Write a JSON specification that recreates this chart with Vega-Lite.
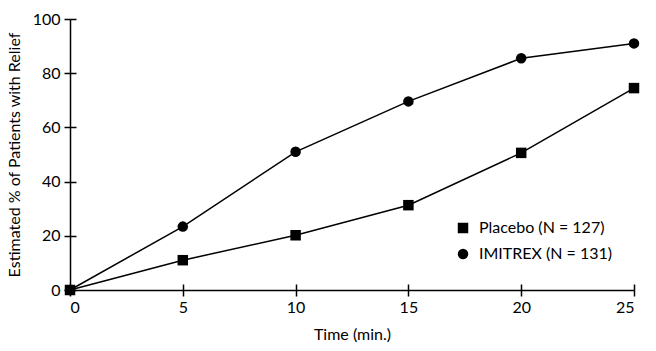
{
  "$schema": "https://vega.github.io/schema/vega-lite/v6.json",
  "width": 564,
  "height": 271,
  "autosize": "none",
  "padding": {"left": 70, "top": 19, "right": 22, "bottom": 61},
  "background": "white",
  "config": {
    "view": {"stroke": null},
    "font": "Lato"
  },
  "data": {"values": [
    {"t": 0, "pct": 0, "group": "Placebo (N = 127)"},
    {"t": 5, "pct": 11, "group": "Placebo (N = 127)"},
    {"t": 10, "pct": 20.2, "group": "Placebo (N = 127)"},
    {"t": 15, "pct": 31.3, "group": "Placebo (N = 127)"},
    {"t": 20, "pct": 50.6, "group": "Placebo (N = 127)"},
    {"t": 25, "pct": 74.5, "group": "Placebo (N = 127)"},
    {"t": 0, "pct": 0, "group": "IMITREX (N = 131)"},
    {"t": 5, "pct": 23.4, "group": "IMITREX (N = 131)"},
    {"t": 10, "pct": 51, "group": "IMITREX (N = 131)"},
    {"t": 15, "pct": 69.6, "group": "IMITREX (N = 131)"},
    {"t": 20, "pct": 85.5, "group": "IMITREX (N = 131)"},
    {"t": 25, "pct": 91, "group": "IMITREX (N = 131)"}
  ]},
  "layer": [
    {
      "mark": {"type": "line", "color": "black", "strokeWidth": 1.5},
      "encoding": {
        "x": {"field": "t", "type": "quantitative", "scale": {"domain": [0, 25], "nice": false}, "axis": {"orient": "bottom", "values": [0, 5, 10, 15, 20, 25], "title": "Time (min.)", "tickSize": 6, "labelPadding": 3, "titlePadding": 11, "grid": false, "domainColor": "black", "tickColor": "black", "labelColor": "black", "titleColor": "black", "labelFont": "Lato", "titleFont": "Lato", "labelFontSize": 16, "titleFontSize": 16, "titleFontWeight": "normal", "domainWidth": 1.5, "tickWidth": 1.5}},
        "y": {"field": "pct", "type": "quantitative", "scale": {"domain": [0, 100], "nice": false}, "axis": {"orient": "left", "values": [0, 20, 40, 60, 80, 100], "title": "Estimated % of Patients with Relief", "tickSize": 6, "labelPadding": 4, "titlePadding": 10, "grid": false, "domainColor": "black", "tickColor": "black", "labelColor": "black", "titleColor": "black", "labelFont": "Lato", "titleFont": "Lato", "labelFontSize": 16, "titleFontSize": 16, "titleFontWeight": "normal", "domainWidth": 1.5, "tickWidth": 1.5}},
        "detail": {"field": "group"}
      }
    },
    {
      "mark": {"type": "point", "filled": true, "opacity": 1, "color": "black", "size": 110},
      "encoding": {
        "x": {"field": "t", "type": "quantitative", "axis": {"orient": "bottom", "values": [0, 5, 10, 15, 20, 25], "title": null, "labels": false, "domain": false, "tickSize": 6, "offset": -6, "grid": false, "tickColor": "black", "tickWidth": 1.5}},
        "y": {"field": "pct", "type": "quantitative", "axis": {"orient": "left", "values": [0, 20, 40, 60, 80, 100], "title": null, "labels": false, "domain": false, "tickSize": 6, "offset": -6, "grid": false, "tickColor": "black", "tickWidth": 1.5}},
        "shape": {"field": "group", "type": "nominal", "scale": {"domain": ["Placebo (N = 127)", "IMITREX (N = 131)"], "range": ["square", "circle"]}, "legend": {"title": null, "orient": "none", "legendX": 385, "legendY": 201, "labelFontSize": 16, "labelFont": "Lato", "labelColor": "black", "symbolFillColor": "black", "symbolStrokeColor": "black", "symbolSize": 110, "rowPadding": 8, "labelOffset": 8}}
      }
    }
  ],
  "resolve": {"axis": {"x": "independent", "y": "independent"}}
}
